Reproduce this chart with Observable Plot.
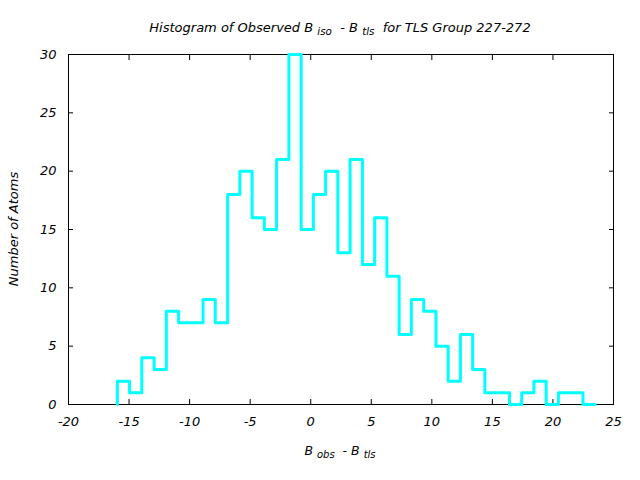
<!DOCTYPE html>
<html><head><meta charset="utf-8">
<script src="https://cdn.jsdelivr.net/npm/d3@7"></script>
<script src="https://cdn.jsdelivr.net/npm/@observablehq/plot@0.6"></script>
<style>body{margin:0;background:#fff} #chart svg{display:block}</style>
</head><body><div id="chart"></div>
<script>
// Bin edges
const binEdges = [-15.97,-14.96,-13.95,-12.93,-11.92,-10.91,-9.90,-8.89,-7.88,-6.86,
  -5.85,-4.84,-3.83,-2.82,-1.80,-0.79,0.22,1.23,2.24,3.25,
  4.27,5.28,6.29,7.30,8.31,9.33,10.34,11.35,12.36,13.37,
  14.38,15.39,16.41,17.42,18.43,19.44,20.45,21.47,22.48,23.49];
// Atom counts per bin
const counts = [2,1,4,3,8,7,7,9,7,18,
  20,16,15,21,30,15,18,20,13,21,
  12,16,11,6,9,8,5,2,6,3,
  1,1,0,1,2,0,1,1,0];
const xTicks = [-20,-15,-10,-5,0,5,10,15,20,25];
const xTickLabels = ["-20","-15","-10","-5","0","5","10","15","20","25"];
const yTicks = [0,5,10,15,20,25,30];
const yTickLabels = ["0","5","10","15","20","25","30"];
const titleParts = [["Histogram of Observed B ", false],["iso", true],["  - B ", false],["tls", true],["  for TLS Group 227-272", false]];
const xLabelParts = [["B ", false],["obs", true],["  - B ", false],["tls", true]];
const yLabel = "Number of Atoms";

const steps = [{x: binEdges[0], y: 0}]
  .concat(counts.map((c, i) => ({x: binEdges[i], y: c})))
  .concat([{x: binEdges[binEdges.length - 1], y: counts[counts.length - 1]}]);

const font = "'DejaVu Sans', sans-serif";
const chart = Plot.plot({
  width: 640, height: 480,
  marginLeft: 68, marginRight: 27, marginTop: 54, marginBottom: 76,
  style: {fontFamily: font, fontSize: "13px", fontStyle: "italic", background: "#fff", color: "#000"},
  x: {domain: [-20, 25]},
  y: {domain: [0, 30]},
  marks: [
    Plot.frame({stroke: "#000", strokeWidth: 1}),
    Plot.axisX(xTicks, {anchor: "bottom", tickSize: -5, tickFormat: () => "", label: null}),
    Plot.axisX(xTicks, {anchor: "top", tickSize: -5, tickFormat: () => "", label: null}),
    Plot.axisY(yTicks, {anchor: "left", tickSize: -5, tickFormat: () => "", label: null}),
    Plot.axisY(yTicks, {anchor: "right", tickSize: -5, tickFormat: () => "", label: null}),
    Plot.axisX(xTicks, {anchor: "bottom", tickSize: 0, tickPadding: 12, tickFormat: d => xTickLabels[xTicks.indexOf(d)], label: null}),
    Plot.axisY(yTicks, {anchor: "left", tickSize: 0, tickPadding: 12, tickFormat: d => yTickLabels[yTicks.indexOf(d)], label: null}),
    Plot.lineY(steps, {x: "x", y: "y", curve: "step-after", stroke: "#00ffff", strokeWidth: 3})
  ]
});
document.getElementById("chart").appendChild(chart);

const svg = d3.select(chart);
function addText(parts, x, y, rotate, size) {
  const t = svg.append("text")
    .attr("text-anchor", "middle")
    .attr("font-family", font)
    .attr("font-style", "italic")
    .attr("font-size", size)
    .attr("fill", "#000")
    .attr("transform", `translate(${x},${y})` + (rotate ? ` rotate(${rotate})` : ""));
  parts.forEach(([s, sub], i) => {
    const ts = t.append("tspan").text(s);
    const prevSub = i > 0 && parts[i - 1][1];
    if (sub) ts.attr("font-size", size * 0.8).attr("dy", 3);
    else if (prevSub) ts.attr("dy", -3);
  });
  t.style("white-space", "pre");
  return t;
}
addText(titleParts, 340, 32, 0, 13);
addText(xLabelParts, 340, 455, 0, 12.5);
addText([[yLabel, false]], 18, 229, -90, 13);
</script>
</body></html>
